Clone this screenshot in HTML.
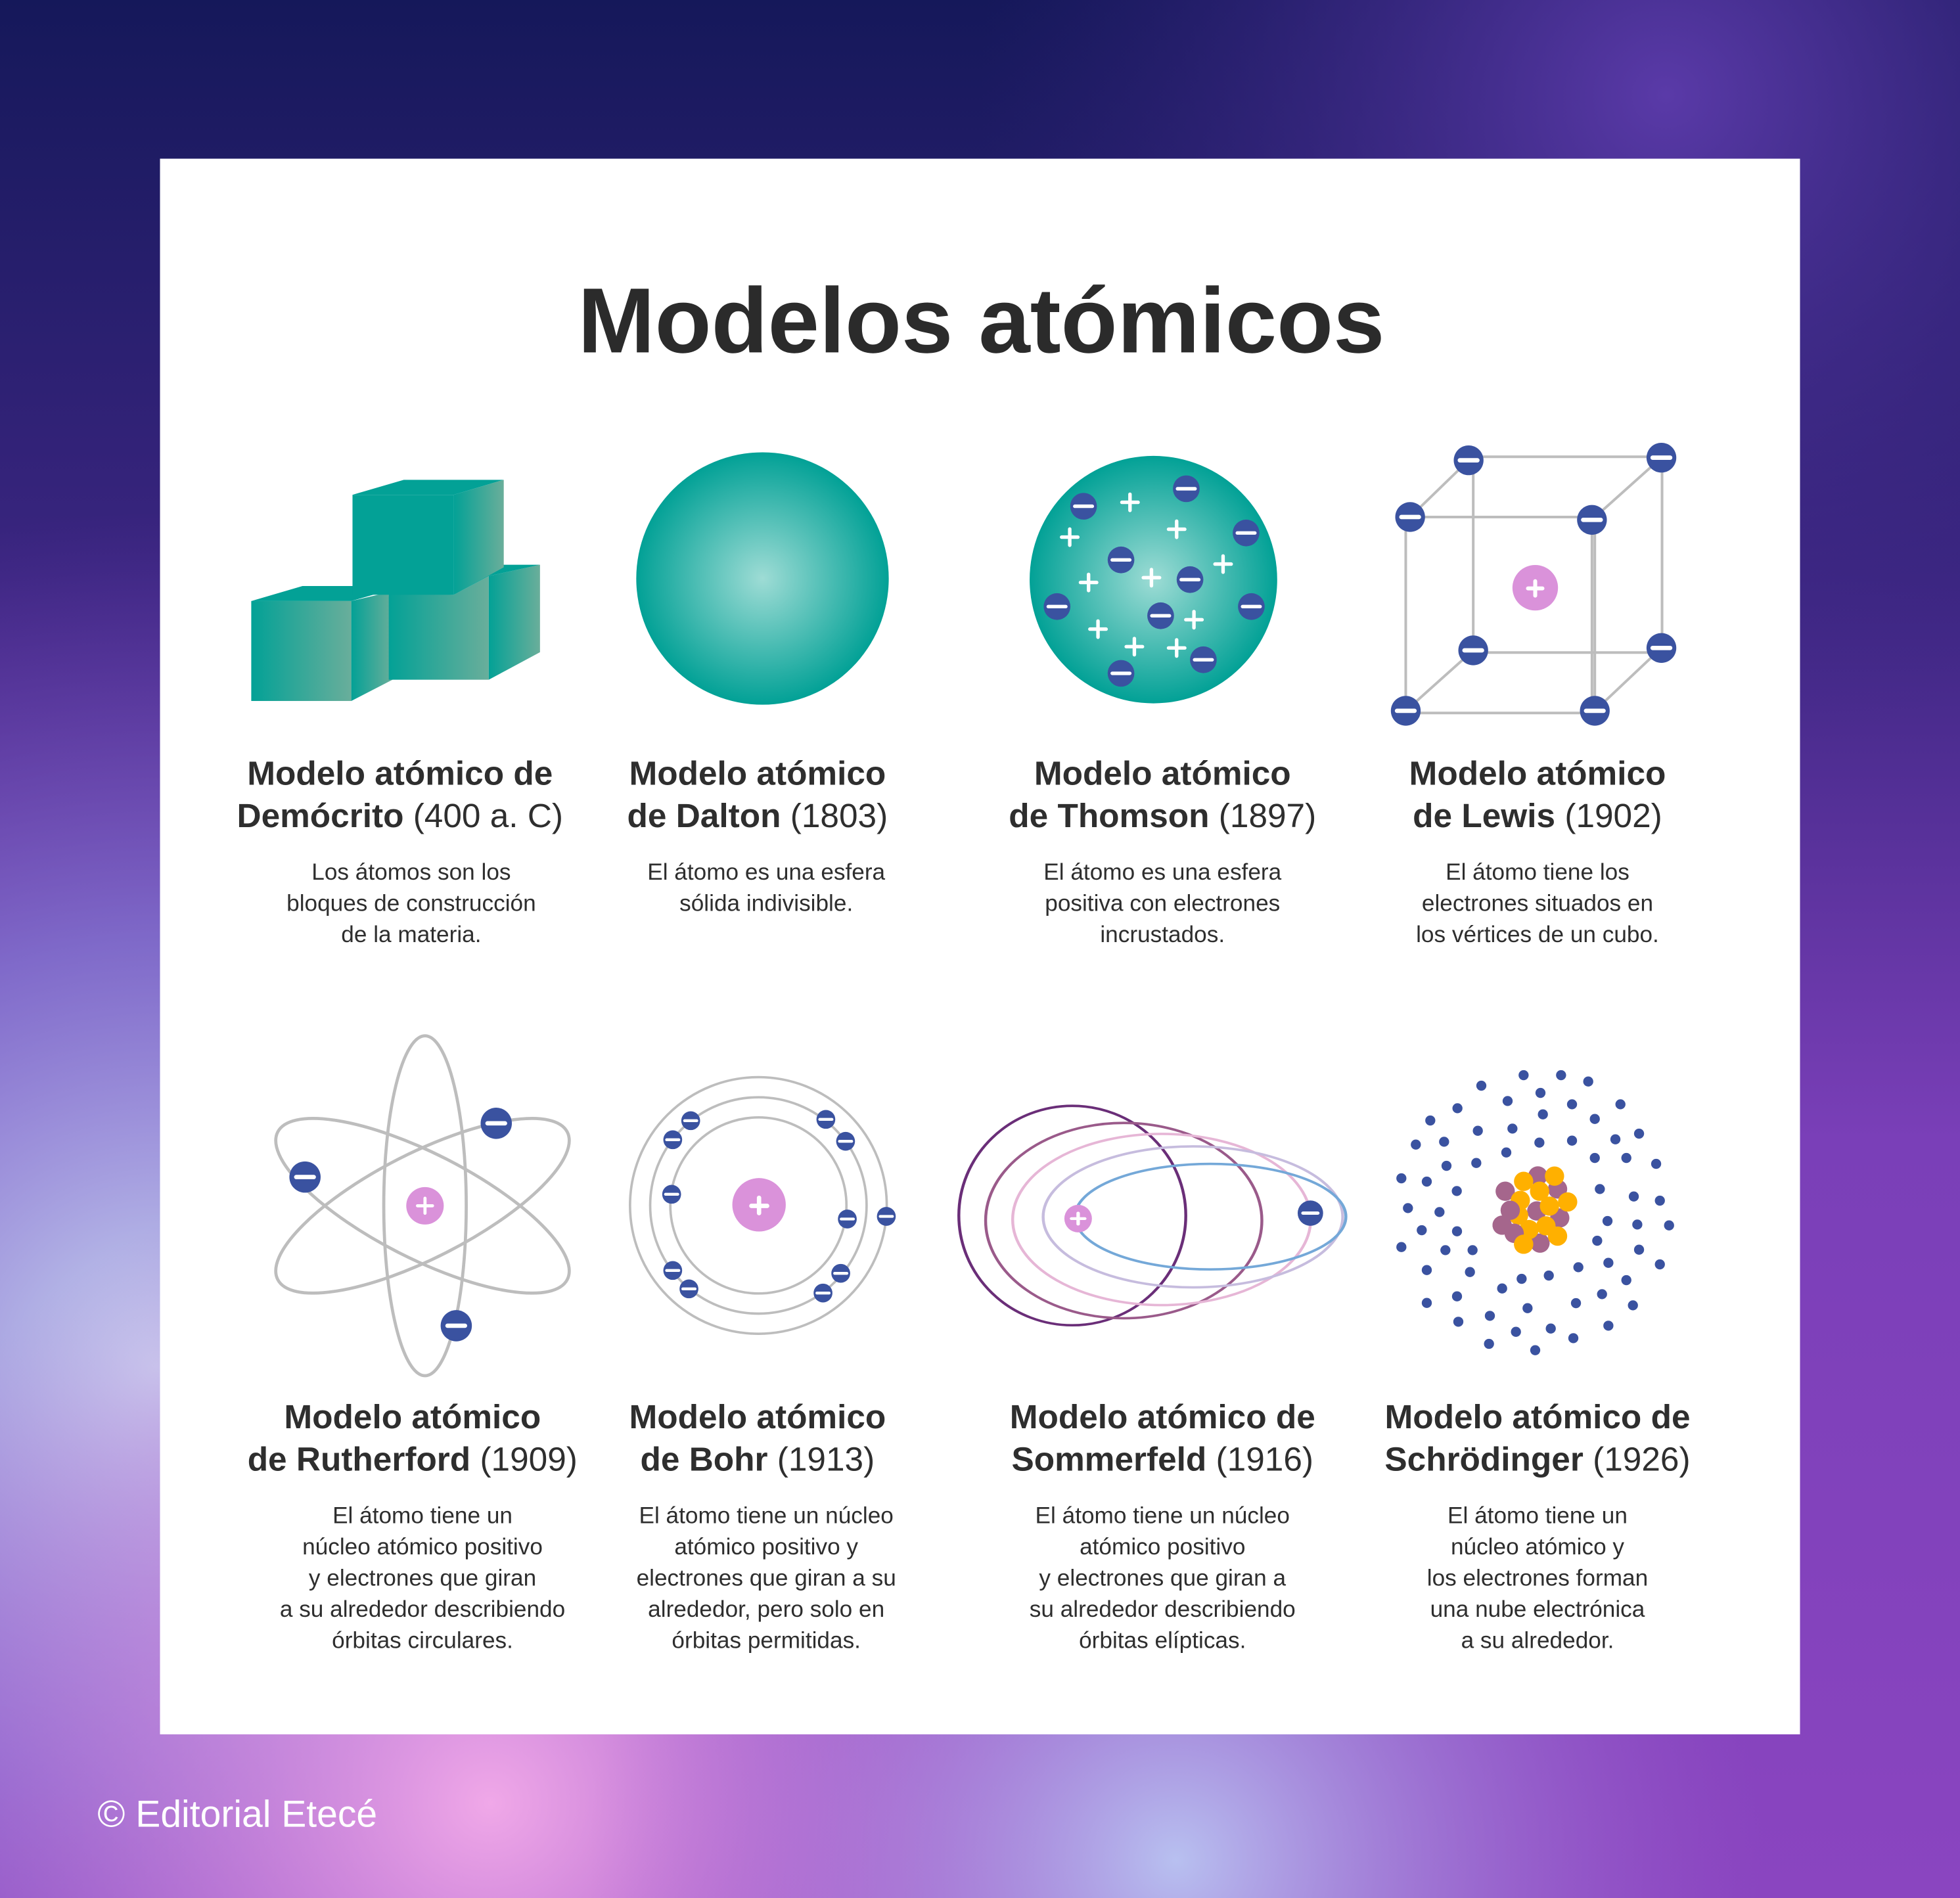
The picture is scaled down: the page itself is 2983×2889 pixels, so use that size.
<!DOCTYPE html>
<html><head><meta charset="utf-8"><style>
html,body{margin:0;padding:0;width:2983px;height:2889px;overflow:hidden;background:#1a1f5e}
svg{display:block}
text{font-family:"Liberation Sans",sans-serif;fill:#2e2e2e}
.h{font-size:27px;font-weight:bold}
.hn{font-weight:normal}
.d{font-size:18.5px}
</style></head><body>
<svg width="2983" height="2889" viewBox="0 0 1568 1519" preserveAspectRatio="none" xmlns="http://www.w3.org/2000/svg">
<defs>
<linearGradient id="bg" x1="0" y1="0" x2="0" y2="1">
<stop offset="0" stop-color="#15185a"/><stop offset="0.3" stop-color="#3a2580"/><stop offset="0.6" stop-color="#7a3fb8"/><stop offset="1" stop-color="#8a45c0"/></linearGradient>
<radialGradient id="g1" cx="0.08" cy="0.72" r="0.45"><stop offset="0" stop-color="#c8d4f0"/><stop offset="0.5" stop-color="#8a7fd8" stop-opacity="0.7"/><stop offset="1" stop-color="#7a3fb8" stop-opacity="0"/></radialGradient>
<radialGradient id="g2" cx="0.25" cy="0.95" r="0.35"><stop offset="0" stop-color="#f0a8e8"/><stop offset="1" stop-color="#c060d0" stop-opacity="0"/></radialGradient>
<radialGradient id="g3" cx="0.6" cy="0.98" r="0.3"><stop offset="0" stop-color="#b8c0f0"/><stop offset="1" stop-color="#a060d0" stop-opacity="0"/></radialGradient>
<radialGradient id="g4" cx="0.85" cy="0.05" r="0.35"><stop offset="0" stop-color="#5a3aa8"/><stop offset="1" stop-color="#3a2580" stop-opacity="0"/></radialGradient>
<linearGradient id="cf" x1="0" y1="0" x2="1" y2="0"><stop offset="0" stop-color="#03a196"/><stop offset="1" stop-color="#69ae9b"/></linearGradient>
<linearGradient id="cs" x1="0" y1="0" x2="1" y2="0"><stop offset="0" stop-color="#03a196"/><stop offset="1" stop-color="#6aae9a"/></linearGradient>
<radialGradient id="sph" cx="0.5" cy="0.5" r="0.5"><stop offset="0" stop-color="#9edcd5"/><stop offset="1" stop-color="#02a196"/></radialGradient>
</defs>
<rect width="1568" height="1519" fill="url(#bg)"/>
<rect width="1568" height="1519" fill="url(#g4)"/>
<rect width="1568" height="1519" fill="url(#g1)"/>
<rect width="1568" height="1519" fill="url(#g2)"/>
<rect width="1568" height="1519" fill="url(#g3)"/>
<text x="78" y="1462" style="font-size:30px;fill:#fff">© Editorial Etecé</text>
<rect x="128" y="127" width="1312" height="1261" fill="#fff"/>
<text x="785" y="282" text-anchor="middle" style="font-size:74px;font-weight:bold;fill:#2b2b2b">Modelos atómicos</text>

<!-- Democrito cubes -->
<g>
<polygon points="201,481 242,469 323,469 281,481" fill="#03a196"/>
<polygon points="281,481 311,474 314,544 281,561" fill="url(#cs)"/>
<rect x="201" y="481" width="80" height="80" fill="url(#cf)"/>
<polygon points="311,474 363,476 391,461 391,544 311,544" fill="url(#cf)"/>
<polygon points="391,461 432,452 432,522 391,544" fill="url(#cs)"/>
<polygon points="363,476 391,461 432,452 400,452" fill="#03a196"/>
<polygon points="282,396 323,384 403,384 363,396" fill="#03a196"/>
<rect x="282" y="396" width="81" height="80" fill="#03a196"/>
<polygon points="363,396 403,384 403,454 363,476" fill="url(#cs)"/>
</g>
<!-- Dalton -->
<circle cx="610" cy="463" r="101" fill="url(#sph)"/>
<!-- Thomson -->
<g transform="translate(809.7,357.5) scale(0.17525)">
<circle cx="645" cy="607" r="565" fill="url(#sph)"/>
<g fill="#3a52a0">
<circle cx="795" cy="192" r="61"/><circle cx="326" cy="272" r="61"/><circle cx="1068" cy="394" r="61"/><circle cx="497" cy="517" r="61"/><circle cx="812" cy="607" r="61"/><circle cx="205" cy="730" r="61"/><circle cx="1092" cy="730" r="61"/><circle cx="678" cy="772" r="61"/><circle cx="873" cy="973" r="61"/><circle cx="497" cy="1035" r="61"/></g>
<g stroke="#fff" stroke-width="16" stroke-linecap="round">
<path d="M755 192h80M286 272h80M1028 394h80M457 517h80M772 607h80M165 730h80M1052 730h80M638 772h80M833 973h80M457 1035h80"/>
<path d="M538 217v74M501 254h74M263 376v74M226 413h74M751 340v74M714 377h74M963 499v74M926 536h74M349 583v74M312 620h74M636 561v74M599 598h74M392 796v74M355 833h74M830 753v74M793 790h74M558 876v74M521 913h74M751 882v74M714 919h74"/>
</g></g>
<!-- Lewis -->
<g transform="translate(1104.1,347) scale(0.17525)">
<g stroke="#bdbdbd" stroke-width="12" fill="none">
<path d="M404 106H1287V1000H425V122M137 381H967V1276H117V381M404 122L137 381M1284 110L967 394M425 990L117 1266M1284 979L980 1266M980 394V1266"/>
</g>
<g fill="#3a52a0"><circle cx="404" cy="122" r="68"/><circle cx="1284" cy="110" r="68"/><circle cx="137" cy="381" r="68"/><circle cx="967" cy="394" r="68"/><circle cx="425" cy="990" r="68"/><circle cx="1284" cy="979" r="68"/><circle cx="117" cy="1266" r="68"/><circle cx="980" cy="1266" r="68"/></g>
<g stroke="#fff" stroke-width="20" stroke-linecap="round"><path d="M364 122h80M1244 110h80M97 381h80M927 394h80M385 990h80M1244 979h80M77 1266h80M940 1266h80"/></g>
<circle cx="708" cy="704" r="104" fill="#da92da"/>
<path d="M708 674v66M675 707h66" stroke="#fff" stroke-width="18" stroke-linecap="round"/>
</g>

<!-- Rutherford -->
<g fill="none" stroke="#bdbdbd" stroke-width="2.5">
<ellipse cx="340" cy="965" rx="33" ry="136"/>
<ellipse cx="338" cy="965" rx="130" ry="42" transform="rotate(27 338 965)"/>
<ellipse cx="338" cy="965" rx="130" ry="42" transform="rotate(-27 338 965)"/>
</g>
<circle cx="340" cy="965" r="15" fill="#da92da"/>
<path d="M340 959v12M334 965h12" stroke="#fff" stroke-width="2.5" stroke-linecap="round"/>
<g fill="#3a52a0"><circle cx="397" cy="899" r="12.5"/><circle cx="244" cy="942" r="12.5"/><circle cx="365" cy="1061" r="12.5"/></g>
<path d="M390 899h14M237 942h14M358 1061h14" stroke="#fff" stroke-width="3.5" stroke-linecap="round"/>

<!-- Bohr -->
<g transform="translate(494.2,851.7) scale(0.17525)">
<g fill="none" stroke="#bdbdbd" stroke-width="11"><circle cx="642" cy="645" r="402"/><circle cx="642" cy="645" r="494"/><circle cx="642" cy="645" r="586"/></g>
<circle cx="645" cy="642" r="122" fill="#da92da"/>
<path d="M645 610v70M610 647h72" stroke="#fff" stroke-width="20" stroke-linecap="round"/>
<g fill="#3a52a0"><circle cx="333" cy="258" r="43"/><circle cx="251" cy="345" r="43"/><circle cx="246" cy="594" r="43"/><circle cx="251" cy="942" r="43"/><circle cx="325" cy="1026" r="43"/><circle cx="950" cy="252" r="43"/><circle cx="1040" cy="352" r="43"/><circle cx="1048" cy="707" r="43"/><circle cx="1226" cy="695" r="43"/><circle cx="1018" cy="955" r="43"/><circle cx="937" cy="1045" r="43"/></g>
<g stroke="#fff" stroke-width="13" stroke-linecap="round"><path d="M305 258h56M223 345h56M218 594h56M223 942h56M297 1026h56M922 252h56M1012 352h56M1020 707h56M1198 695h56M990 955h56M909 1045h56"/></g>
</g>

<!-- Sommerfeld -->
<g transform="translate(757.1,867.5) scale(0.2121,0.17525)">
<g fill="none" stroke-width="11">
<ellipse cx="475" cy="601" rx="428" ry="501" stroke="#6a2e78"/>
<ellipse cx="669" cy="624" rx="521" ry="446" stroke="#9a5a8a"/>
<ellipse cx="812" cy="619" rx="562" ry="391" stroke="#e6b6d6"/>
<ellipse cx="930" cy="607" rx="565" ry="322" stroke="#c6bcde"/>
<ellipse cx="996" cy="606" rx="511" ry="241" stroke="#74a8d8"/>
</g>
<ellipse cx="497" cy="615" rx="52" ry="63" fill="#da92da"/>
<path d="M497 590v50M472 615h50" stroke="#fff" stroke-width="13" stroke-linecap="round"/>
<ellipse cx="1373" cy="590" rx="48" ry="58" fill="#3a52a0"/>
<path d="M1346 590h54" stroke="#fff" stroke-width="15" stroke-linecap="round"/>
</g>

<!-- Schrodinger -->
<g transform="translate(1104.1,841.2) scale(0.17525)">
<g fill="#3a52a0">
<circle cx="655" cy="110" r="23"/><circle cx="826" cy="110" r="23"/><circle cx="950" cy="139" r="23"/><circle cx="462" cy="158" r="23"/><circle cx="732" cy="191" r="23"/><circle cx="582" cy="228" r="23"/><circle cx="876" cy="243" r="23"/><circle cx="1097" cy="243" r="23"/><circle cx="353" cy="261" r="23"/><circle cx="743" cy="289" r="23"/><circle cx="980" cy="310" r="23"/><circle cx="229" cy="317" r="23"/><circle cx="446" cy="364" r="23"/><circle cx="604" cy="354" r="23"/><circle cx="1182" cy="377" r="23"/><circle cx="163" cy="427" r="23"/><circle cx="292" cy="414" r="23"/><circle cx="727" cy="418" r="23"/><circle cx="876" cy="409" r="23"/><circle cx="1074" cy="403" r="23"/><circle cx="576" cy="463" r="23"/><circle cx="980" cy="488" r="23"/><circle cx="1124" cy="488" r="23"/><circle cx="1260" cy="515" r="23"/><circle cx="303" cy="524" r="23"/><circle cx="439" cy="511" r="23"/><circle cx="97" cy="581" r="23"/><circle cx="213" cy="596" r="23"/><circle cx="350" cy="639" r="23"/><circle cx="1003" cy="630" r="23"/><circle cx="1158" cy="664" r="23"/><circle cx="1277" cy="683" r="23"/><circle cx="127" cy="717" r="23"/><circle cx="271" cy="735" r="23"/><circle cx="1038" cy="776" r="23"/><circle cx="1174" cy="792" r="23"/><circle cx="1319" cy="796" r="23"/><circle cx="190" cy="818" r="23"/><circle cx="351" cy="823" r="23"/><circle cx="991" cy="866" r="23"/><circle cx="97" cy="895" r="23"/><circle cx="298" cy="909" r="23"/><circle cx="422" cy="909" r="23"/><circle cx="1182" cy="907" r="23"/><circle cx="905" cy="987" r="23"/><circle cx="1042" cy="967" r="23"/><circle cx="1277" cy="974" r="23"/><circle cx="213" cy="1000" r="23"/><circle cx="410" cy="1009" r="23"/><circle cx="646" cy="1040" r="23"/><circle cx="770" cy="1025" r="23"/><circle cx="1124" cy="1046" r="23"/><circle cx="557" cy="1084" r="23"/><circle cx="351" cy="1120" r="23"/><circle cx="213" cy="1150" r="23"/><circle cx="894" cy="1151" r="23"/><circle cx="1013" cy="1110" r="23"/><circle cx="673" cy="1174" r="23"/><circle cx="1154" cy="1161" r="23"/><circle cx="501" cy="1209" r="23"/><circle cx="357" cy="1236" r="23"/><circle cx="620" cy="1282" r="23"/><circle cx="779" cy="1267" r="23"/><circle cx="1042" cy="1254" r="23"/><circle cx="882" cy="1311" r="23"/><circle cx="497" cy="1337" r="23"/><circle cx="708" cy="1366" r="23"/>
</g>
<g fill="#a5668c"><circle cx="720" cy="570" r="44"/><circle cx="571" cy="640" r="44"/><circle cx="810" cy="630" r="44"/><circle cx="594" cy="727" r="44"/><circle cx="715" cy="730" r="44"/><circle cx="820" cy="762" r="44"/><circle cx="557" cy="795" r="44"/><circle cx="612" cy="832" r="44"/><circle cx="730" cy="877" r="44"/></g>
<g fill="#ffb000"><circle cx="655" cy="595" r="44"/><circle cx="796" cy="571" r="44"/><circle cx="728" cy="640" r="44"/><circle cx="640" cy="682" r="44"/><circle cx="856" cy="689" r="44"/><circle cx="773" cy="708" r="44"/><circle cx="632" cy="750" r="44"/><circle cx="680" cy="815" r="44"/><circle cx="757" cy="798" r="44"/><circle cx="810" cy="845" r="44"/><circle cx="655" cy="882" r="44"/></g>
<circle cx="594" cy="727" r="44" fill="#a5668c"/><circle cx="557" cy="795" r="44" fill="#a5668c"/><circle cx="612" cy="832" r="44" fill="#a5668c"/><circle cx="655" cy="882" r="44" fill="#ffb000"/>
</g>

<g text-anchor="middle">
<text class="h" x="320" y="628">Modelo atómico de</text>
<text class="h" x="320" y="662">Demócrito <tspan class="hn">(400 a. C)</tspan></text>
<text class="d" x="329" y="704">Los átomos son los</text>
<text class="d" x="329" y="729">bloques de construcción</text>
<text class="d" x="329" y="754">de la materia.</text>

<text class="h" x="606" y="628">Modelo atómico</text>
<text class="h" x="606" y="662">de Dalton <tspan class="hn">(1803)</tspan></text>
<text class="d" x="613" y="704">El átomo es una esfera</text>
<text class="d" x="613" y="729">sólida indivisible.</text>

<text class="h" x="930" y="628">Modelo atómico</text>
<text class="h" x="930" y="662">de Thomson <tspan class="hn">(1897)</tspan></text>
<text class="d" x="930" y="704">El átomo es una esfera</text>
<text class="d" x="930" y="729">positiva con electrones</text>
<text class="d" x="930" y="754">incrustados.</text>

<text class="h" x="1230" y="628">Modelo atómico</text>
<text class="h" x="1230" y="662">de Lewis <tspan class="hn">(1902)</tspan></text>
<text class="d" x="1230" y="704">El átomo tiene los</text>
<text class="d" x="1230" y="729">electrones situados en</text>
<text class="d" x="1230" y="754">los vértices de un cubo.</text>

<text class="h" x="330" y="1143">Modelo atómico</text>
<text class="h" x="330" y="1177">de Rutherford <tspan class="hn">(1909)</tspan></text>
<text class="d" x="338" y="1219">El átomo tiene un</text>
<text class="d" x="338" y="1244">núcleo atómico positivo</text>
<text class="d" x="338" y="1269">y electrones que giran</text>
<text class="d" x="338" y="1294">a su alrededor describiendo</text>
<text class="d" x="338" y="1319">órbitas circulares.</text>

<text class="h" x="606" y="1143">Modelo atómico</text>
<text class="h" x="606" y="1177">de Bohr <tspan class="hn">(1913)</tspan></text>
<text class="d" x="613" y="1219">El átomo tiene un núcleo</text>
<text class="d" x="613" y="1244">atómico positivo y</text>
<text class="d" x="613" y="1269">electrones que giran a su</text>
<text class="d" x="613" y="1294">alrededor, pero solo en</text>
<text class="d" x="613" y="1319">órbitas permitidas.</text>

<text class="h" x="930" y="1143">Modelo atómico de</text>
<text class="h" x="930" y="1177">Sommerfeld <tspan class="hn">(1916)</tspan></text>
<text class="d" x="930" y="1219">El átomo tiene un núcleo</text>
<text class="d" x="930" y="1244">atómico positivo</text>
<text class="d" x="930" y="1269">y electrones que giran a</text>
<text class="d" x="930" y="1294">su alrededor describiendo</text>
<text class="d" x="930" y="1319">órbitas elípticas.</text>

<text class="h" x="1230" y="1143">Modelo atómico de</text>
<text class="h" x="1230" y="1177">Schrödinger <tspan class="hn">(1926)</tspan></text>
<text class="d" x="1230" y="1219">El átomo tiene un</text>
<text class="d" x="1230" y="1244">núcleo atómico y</text>
<text class="d" x="1230" y="1269">los electrones forman</text>
<text class="d" x="1230" y="1294">una nube electrónica</text>
<text class="d" x="1230" y="1319">a su alrededor.</text>
</g>
</svg>
</body></html>
